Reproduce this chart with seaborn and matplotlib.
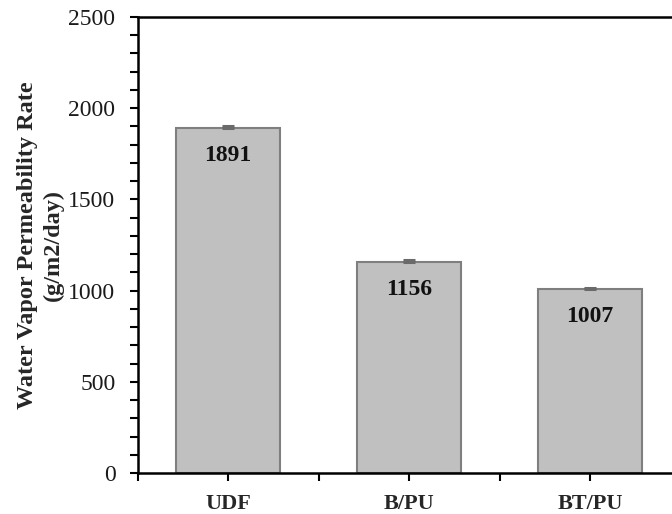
import matplotlib
matplotlib.use("Agg")
import matplotlib.pyplot as plt
import seaborn as sns
import numpy as np
import pandas as pd

categories = ["UDF", "B/PU", "BT/PU"]
values = [1891, 1156, 1007]
errors = [14, 10, 9]
y_ticks = [0, 500, 1000, 1500, 2000, 2500]

sns.set_theme(style="white")
plt.rcParams['font.family'] = ['Liberation Serif', 'DejaVu Serif']

fig = plt.figure(figsize=(6.72, 5.14), dpi=100)
ax = fig.add_axes([137.6 / 672, 41 / 514, (680.5 - 137.6) / 672, (473 - 17) / 514])

df = pd.DataFrame({"cat": categories, "val": values})
sns.barplot(data=df, x="cat", y="val", ax=ax, color="#c0c0c0", width=0.575,
            edgecolor="#7f7f7f", linewidth=1.5, errorbar=None, saturation=1)
ax.errorbar(np.arange(len(categories)), values, yerr=[[0] * len(errors), errors],
            fmt="none", ecolor="#6a6a6a", elinewidth=1.2, capsize=4.3, capthick=2.2)

for i, v in enumerate(values):
    ax.annotate(str(v), (i, v), xytext=(0, -19.5), textcoords="offset points",
                ha="center", va="center", fontsize=17, fontweight="bold", color="#111111")

ax.set_xlim(-0.5, 2.5)
ax.set_ylim(0, 2500)
ax.set_yticks(y_ticks)
ax.set_yticks(np.arange(0, 2501, 100), minor=True)
ax.set_xticks([-0.5, 0.5, 1.5, 2.5], minor=True)

for side in ["left", "bottom", "top"]:
    ax.spines[side].set_visible(True)
    ax.spines[side].set_color("black")
    ax.spines[side].set_linewidth(1.8)
ax.spines["right"].set_visible(False)

ax.tick_params(axis="y", which="both", direction="out", length=6, width=1.5,
               color="black", left=True, labelsize=17, pad=10, labelcolor="#1a1a1a")
ax.tick_params(axis="x", which="both", direction="out", length=6, width=1.5,
               color="black", bottom=True, labelsize=16, pad=9)
for lab in ax.get_xticklabels():
    lab.set_fontweight("bold")

ax.set_xlabel("")
ax.set_ylabel("Water Vapor Permeability Rate\n(g/m2/day)", fontsize=17.5,
              fontweight="bold", labelpad=3, linespacing=1.3)
ax.grid(False)

fig.savefig("out.png", dpi=100)
